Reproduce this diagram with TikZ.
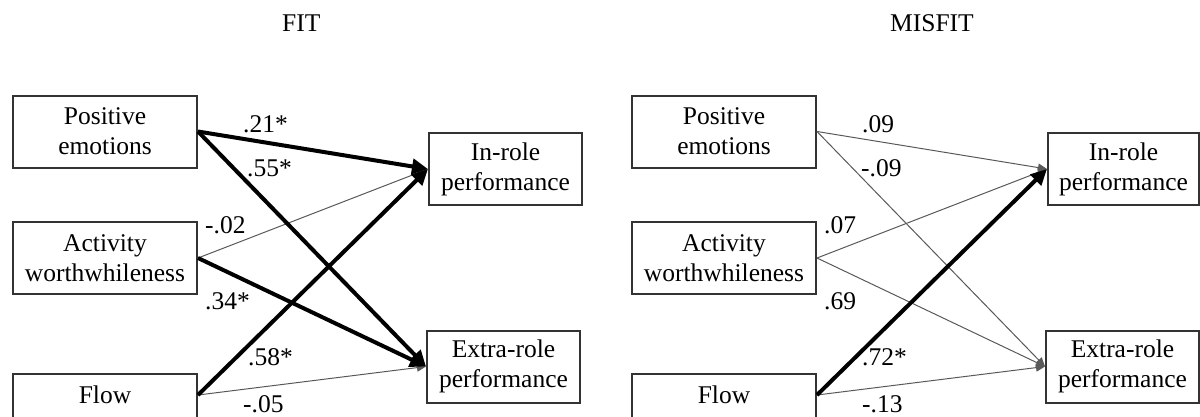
\documentclass[tikz,border=0pt]{standalone}
\usepackage{fontspec}
\setmainfont{Liberation Serif}
\usetikzlibrary{arrows.meta}

\begin{document}
\begin{tikzpicture}[x=1pt,y=-1pt,
  every node/.style={font=\fontsize{25.5}{30}\selectfont, text=black},
  var/.style={draw=black!80, line width=2pt, minimum width=184pt,
    minimum height=72pt, inner sep=0pt, align=center},
  outc/.style={draw=black!80, line width=2pt, minimum width=153pt,
    minimum height=72pt, inner sep=0pt, align=center},
  coef/.style={anchor=west, inner sep=0pt},
  strong/.style={line width=4pt, black, -{Triangle[length=16pt,width=15pt]}},
  weak/.style={line width=1pt, black!65, -{Triangle[length=9pt,width=8pt]}},
  title/.style={anchor=west, inner sep=0pt}
]
\useasboundingbox (0,0) rectangle (1200,416);

% ---------- FIT model ----------
\node[title] (tfit) at (282,23) {FIT};

\node[var] (pe1) at (105,131.5) {Positive\\emotions};
\node[var] (aw1) at (105,258) {Activity\\worthwhileness};
\node[var] (fl1) at (105,410) {Flow\\~};
\node[outc] (ir1) at (505.5,169) {In-role\\performance};
\node[outc] (er1) at (503.5,366.5) {Extra-role\\performance};

\draw[weak] (aw1.east) -- (ir1.west);
\draw[weak] (fl1.east |- 0,395) coordinate (f1) -- (er1.west);
\draw[strong] (pe1.east) -- (ir1.west);
\draw[strong] (pe1.east) -- (er1.west);
\draw[strong] (aw1.east) -- (er1.west);
\draw[strong] (f1) -- (ir1.west);

\node[coef] (c11) at (243,124) {.21*};
\node[coef] (c12) at (247,168.5) {.55*};
\node[coef] (c13) at (205,225) {-.02};
\node[coef] (c14) at (205,301) {.34*};
\node[coef] (c15) at (248,357) {.58*};
\node[coef] (c16) at (243,404.5) {-.05};

% ---------- MISFIT model ----------
\node[title] (tmis) at (890,23) {MISFIT};

\node[var] (pe2) at (724,131.5) {Positive\\emotions};
\node[var] (aw2) at (724,258) {Activity\\worthwhileness};
\node[var] (fl2) at (724,410) {Flow\\~};
\node[outc, minimum width=151pt] (ir2) at (1123.5,169) {In-role\\performance};
\node[outc] (er2) at (1122.5,366.5) {Extra-role\\performance};

\draw[weak] (pe2.east) -- (ir2.west);
\draw[weak] (pe2.east) -- (er2.west);
\draw[weak] (aw2.east) -- (ir2.west);
\draw[weak] (aw2.east) -- (er2.west);
\draw[weak] (fl2.east |- 0,395) coordinate (f2) -- (er2.west);
\draw[strong] (f2) -- (ir2.west);

\node[coef] (c21) at (862,124) {.09};
\node[coef] (c22) at (861,168.5) {-.09};
\node[coef] (c23) at (824,225) {.07};
\node[coef] (c24) at (824,301) {.69};
\node[coef] (c25) at (862,357) {.72*};
\node[coef] (c26) at (862,404.5) {-.13};
\end{tikzpicture}
\end{document}
